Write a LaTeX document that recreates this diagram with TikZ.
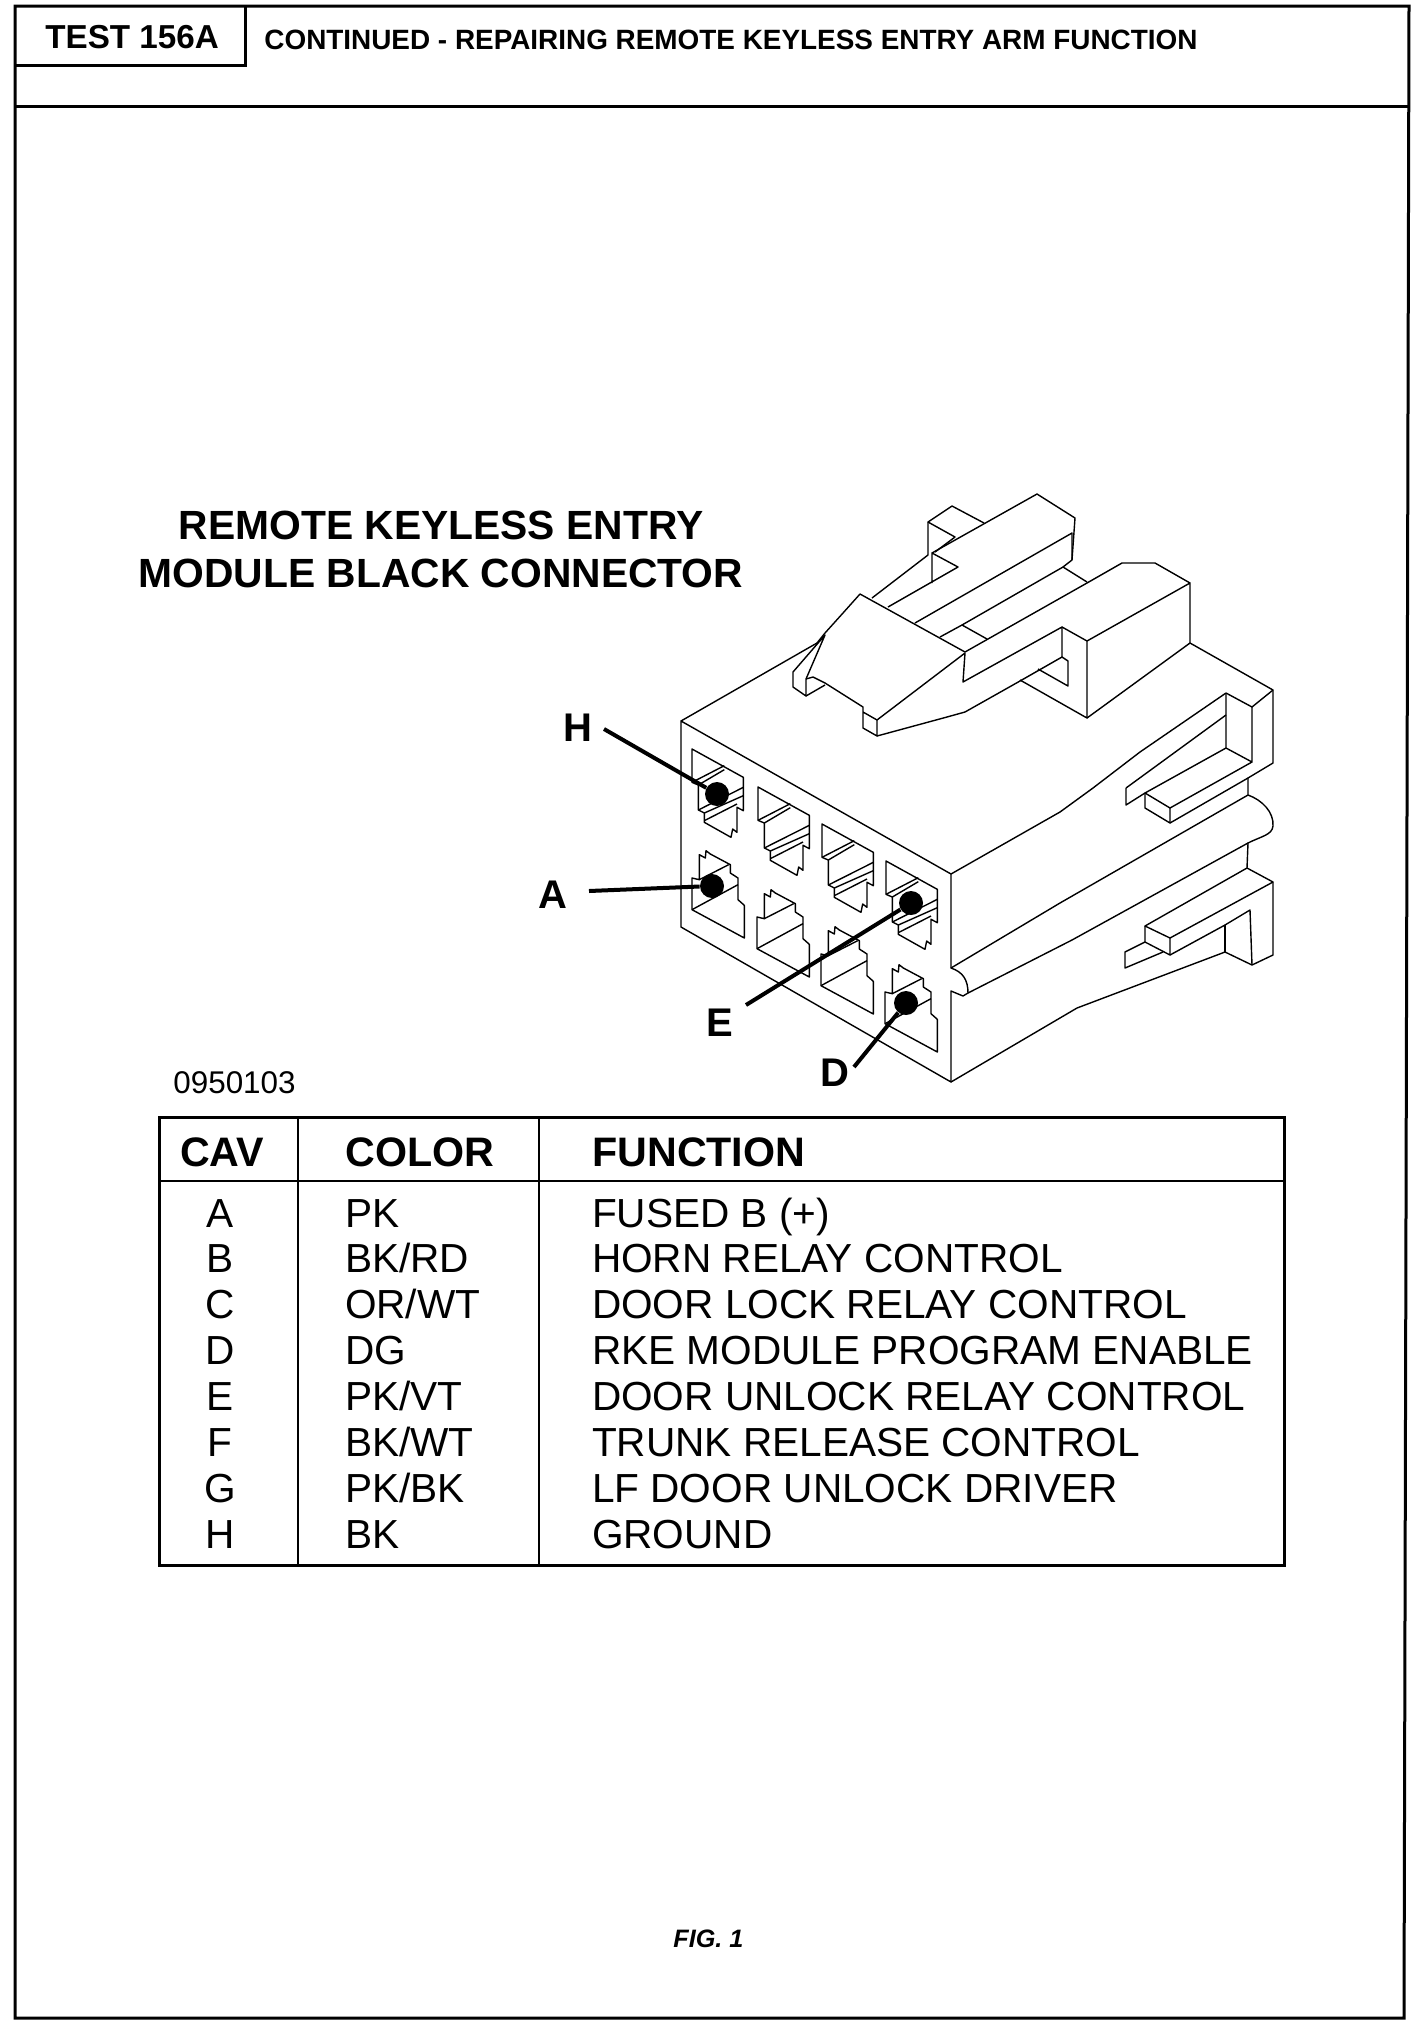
\documentclass[tikz,border=0pt]{standalone}
\usepackage{fontspec}
\setmainfont{Liberation Sans}
\usetikzlibrary{positioning}

\begin{document}
\begin{tikzpicture}[
        x=0.5pt, y=-0.5pt,
        frame/.style={line width=1.5pt},
        rule/.style={line width=1.1pt},
        part/.style={line width=0.7pt, line join=round},
        leader/.style={line width=2pt},
        dot/.style={circle, fill=black, minimum size=12pt, inner sep=0pt},
        tag/.style={inner sep=0pt, anchor=base, font=\bfseries\fontsize{20}{24}\selectfont},
        hdr/.style={inner sep=0pt, anchor=base west, font=\bfseries\fontsize{20.6}{24}\selectfont},
        cell/.style={inner sep=0pt, outer sep=0pt, text height=14.5pt, text depth=0pt, font=\fontsize{20.3}{24}\selectfont},
        cavup/.pic={
            \draw[part, scale=0.3333] (0,100) -- (0,0) -- (154,85) -- (154,185) -- (135,175) -- (135,250) -- (122,240) -- (117,265) -- (37,220) -- (37,192) -- (19,183) -- (19,108) -- cycle;
            \draw[part, scale=0.3333] (0,100) -- (97,50);
            \draw[part, scale=0.3333] (19,108) -- (97,62);
            \draw[part, scale=0.3333] (19,183) -- (154,115);
            \draw[part, scale=0.3333] (37,192) -- (154,140);
            \draw[part, scale=0.3333] (37,215) -- (135,165);
        },
        cavlow/.pic={
            \draw[part, scale=0.3333] (0,95) -- (0,0) -- (22,5) -- (22,-70) -- (40,-60) -- (42,-82) -- (55,-72) -- (115,-40) -- (115,-15) -- (138,0) -- (138,65) -- (157,82) -- (157,180) -- cycle;
            \draw[part, scale=0.3333] (0,95) -- (138,20);
            \draw[part, scale=0.3333] (22,5) -- (110,-40);
        }
    ]
        \useasboundingbox (0,0) rectangle (1424,2036);

        % Page frame and heading
        \draw[frame] (15,6) -- (1409,6) -- (1404,2018) -- (15,2018) -- cycle;
        \draw[frame] (15,106) -- (1409,106);
        \draw[frame] (15,65) -- (245,65) -- (245,6);
        \node[inner sep=0pt, anchor=base west, font=\bfseries\fontsize{16.6}{20}\selectfont] (testno) at (45,48) {TEST 156A};
        \node[inner sep=0pt, anchor=base west, font=\bfseries\fontsize{13.95}{17}\selectfont] (heading) at (264,49) {CONTINUED - REPAIRING REMOTE KEYLESS ENTRY ARM FUNCTION};

        % Title
        \node[inner sep=0pt, align=center, font=\bfseries\fontsize{20.4}{24}\selectfont] (title) at (441,549) {REMOTE KEYLESS ENTRY\\MODULE BLACK CONNECTOR};
        \node[inner sep=0pt, anchor=base west, font=\fontsize{15.7}{19}\selectfont] (partno) at (173,1093) {0950103};

        % Housing
        \draw[part] (681,721) -- (681,927) -- (951,1082) -- (951,991) -- (963,996) -- (968,993) .. controls (968,980) and (963,972) .. (951,968) -- (951,874) -- cycle;
        \draw[part] (681,721) -- (817,643) -- (825,633);
        \draw[part] (951,874) -- (1060,812) -- (1093,788) -- (1140,752) -- (1226,693);
        \draw[part] (1190,643) -- (1273,690) -- (1273,763) -- (1248,778) -- (1248,795) .. controls (1262,800) and (1274,812) .. (1273,826) .. controls (1272,835) and (1262,836) .. (1248,843) -- (1247,868) -- (1273,882) -- (1273,955) -- (1252,965) -- (1225,952) -- (1077,1008) -- (951,1082);
        \draw[part] (951,968) -- (1060,903) -- (1248,795);
        \draw[part] (968,993) -- (1072,940) -- (1248,843);

        % Upper slot
        \draw[part] (1126,788) -- (1226,715);
        \draw[part] (1226,693) -- (1252,707) -- (1273,690);
        \draw[part] (1126,788) -- (1126,805) -- (1145,793);
        \draw[part] (1226,693) -- (1226,748) -- (1252,762) -- (1252,707);
        \draw[part] (1226,748) -- (1145,793) -- (1170,808) -- (1252,762);
        \draw[part] (1145,793) -- (1145,808) -- (1170,823) -- (1170,808);
        \draw[part] (1170,823) -- (1248,778);

        % Lower slot
        \draw[part] (1247,868) -- (1145,926) -- (1170,938) -- (1273,882);
        \draw[part] (1145,926) -- (1145,942) -- (1170,955) -- (1170,938);
        \draw[part] (1170,955) -- (1225,925) -- (1250,910) -- (1252,965);
        \draw[part] (1225,925) -- (1225,952);
        \draw[part] (1145,942) -- (1125,952) -- (1125,968) -- (1163,952);

        % Latch
        \draw[part] (825,633) -- (843,613) -- (860,594) -- (965,652);
        \draw[part] (825,635) -- (793,672) -- (793,687) -- (806,696) -- (806,679) -- cycle;
        \draw[part] (806,679) -- (813,677) -- (825,683) -- (863,707) -- (863,728) -- (877,736) -- (877,720) -- (863,712);
        \draw[part] (806,696) -- (825,685);
        \draw[part] (877,720) -- (965,653) -- (963,682) -- (1062,627) -- (1062,657);
        \draw[part] (877,736) -- (947,717) -- (965,712) -- (1020,681) -- (1062,657) -- (1068,661) -- (1068,686) -- (1038,669);
        \draw[part] (1062,627) -- (1087,641) -- (1087,718) -- (1020,680);
        \draw[part] (1087,641) -- (1190,583) -- (1190,643) -- (1087,718);
        \draw[part] (965,652) -- (1087,583) -- (1122,563) -- (1155,563) -- (1190,583);
        \draw[part] (940,637) -- (962,625) -- (987,639);
        \draw[part] (962,625) -- (1063,567) -- (1087,582);
        \draw[part] (1063,567) -- (1072,560) -- (1075,518) -- (1037,494) -- (932,553);
        \draw[part] (915,623) -- (1072,533) -- (1072,560);
        \draw[part] (888,607) -- (958,567) -- (932,553) -- (932,583);
        \draw[part] (872,598) -- (928,555) -- (928,522) -- (952,506) -- (984,523);
        \draw[part] (928,522) -- (955,537) -- (935,552);

        % Cavities
        \pic (cavH) at (692,749) {cavup};
        \pic (cavG) at (758,787) {cavup};
        \pic (cavF) at (822,824) {cavup};
        \pic (cavE) at (886,861) {cavup};
        \pic (cavA) at (692,878) {cavlow};
        \pic (cavB) at (757,917) {cavlow};
        \pic (cavC) at (821,954) {cavlow};
        \pic (cavD) at (885,992) {cavlow};

        % Pin callouts
        \node[dot] (dotH) at (717,794) {};
        \node[dot] (dotA) at (712,886) {};
        \node[dot] (dotE) at (911,903) {};
        \node[dot] (dotD) at (906,1003) {};
        \node[tag] (tagH) at (578,741) {H};
        \node[tag] (tagA) at (553,908) {A};
        \node[tag] (tagE) at (720,1036) {E};
        \node[tag] (tagD) at (835,1086) {D};
        \coordinate (endH) at (604,729);
        \coordinate (endA) at (589,891);
        \coordinate (endE) at (746,1005);
        \coordinate (endD) at (854,1067);
        \draw[leader] (endH) -- (dotH);
        \draw[leader] (endA) -- (dotA);
        \draw[leader] (endE) -- (dotE);
        \draw[leader] (endD) -- (dotD);

        % Table
        \draw[frame] (159,1117) rectangle (1284,1565);
        \draw[rule] (159,1181) -- (1284,1181);
        \draw[rule] (298,1117) -- (298,1564);
        \draw[rule] (539,1117) -- (539,1564);
        \node[hdr, anchor=base] (hdrCav) at (222,1166) {CAV};
        \node[hdr] (hdrColor) at (345,1166) {COLOR};
        \node[hdr] (hdrFunc) at (592,1166) {FUNCTION};

        \node[cell, anchor=north] (cavRowA) at (220,1198) {A};
        \node[cell, below=8.45pt of cavRowA] (cavRowB) {B};
        \node[cell, below=8.45pt of cavRowB] (cavRowC) {C};
        \node[cell, below=8.45pt of cavRowC] (cavRowD) {D};
        \node[cell, below=8.45pt of cavRowD] (cavRowE) {E};
        \node[cell, below=8.45pt of cavRowE] (cavRowF) {F};
        \node[cell, below=8.45pt of cavRowF] (cavRowG) {G};
        \node[cell, below=8.45pt of cavRowG] (cavRowH) {H};

        \node[cell, anchor=north west] (colA) at (345,1198) {PK};
        \node[cell, below=8.45pt of colA.south west, anchor=north west] (colB) {BK/RD};
        \node[cell, below=8.45pt of colB.south west, anchor=north west] (colC) {OR/WT};
        \node[cell, below=8.45pt of colC.south west, anchor=north west] (colD) {DG};
        \node[cell, below=8.45pt of colD.south west, anchor=north west] (colE) {PK/VT};
        \node[cell, below=8.45pt of colE.south west, anchor=north west] (colF) {BK/WT};
        \node[cell, below=8.45pt of colF.south west, anchor=north west] (colG) {PK/BK};
        \node[cell, below=8.45pt of colG.south west, anchor=north west] (colH) {BK};

        \node[cell, anchor=north west] (funcA) at (592,1198) {FUSED B (+)};
        \node[cell, below=8.45pt of funcA.south west, anchor=north west] (funcB) {HORN RELAY CONTROL};
        \node[cell, below=8.45pt of funcB.south west, anchor=north west] (funcC) {DOOR LOCK RELAY CONTROL};
        \node[cell, below=8.45pt of funcC.south west, anchor=north west] (funcD) {RKE MODULE PROGRAM ENABLE};
        \node[cell, below=8.45pt of funcD.south west, anchor=north west] (funcE) {DOOR UNLOCK RELAY CONTROL};
        \node[cell, below=8.45pt of funcE.south west, anchor=north west] (funcF) {TRUNK RELEASE CONTROL};
        \node[cell, below=8.45pt of funcF.south west, anchor=north west] (funcG) {LF DOOR UNLOCK DRIVER};
        \node[cell, below=8.45pt of funcG.south west, anchor=north west] (funcH) {GROUND};

        \node[inner sep=0pt, anchor=base west, font=\bfseries\itshape\fontsize{12.6}{15}\selectfont] (figno) at (673,1947) {FIG. 1};
    \end{tikzpicture}
\end{document}
